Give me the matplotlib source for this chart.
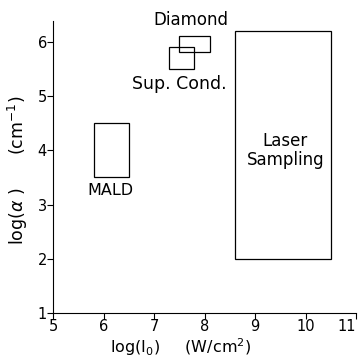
import matplotlib
matplotlib.use("Agg")
import matplotlib.pyplot as plt
from matplotlib.patches import Rectangle

# regions in log(I0) / log(alpha) space
names = ["MALD", "Sup. Cond.", "Diamond", "Laser\nSampling"]
x_lo = [5.8, 7.3, 7.5, 8.6]
x_hi = [6.5, 7.8, 8.1, 10.5]
y_lo = [3.5, 5.5, 5.8, 2.0]
y_hi = [4.5, 5.9, 6.1, 6.2]
# where each label sits
lab_x = [6.13, 7.5, 7.72, 9.6]
lab_y = [3.25, 5.22, 6.4, 3.99]
lab_size = [11.5, 12.5, 12, 12]

fig = plt.figure(figsize=(3.64, 3.6), dpi=100)
ax = fig.add_axes([0.146, 0.13, 0.832, 0.812])

for i in range(len(names)):
    ax.add_patch(Rectangle((x_lo[i], y_lo[i]), x_hi[i] - x_lo[i], y_hi[i] - y_lo[i],
                           fill=False, edgecolor="black", linewidth=0.9))
    ax.text(lab_x[i], lab_y[i], names[i], ha="center", va="center",
            fontsize=lab_size[i], linespacing=1.1)

ax.set_xlim(5, 11)
ax.set_ylim(1, 6.38)
ax.set_xticks(range(5, 12))
ax.set_yticks(range(1, 7))
ax.spines["top"].set_visible(False)
ax.spines["right"].set_visible(False)
ax.tick_params(direction="out", length=4, labelsize=10.5, pad=0.5)
ax.get_xticklabels()[-1].set_horizontalalignment("right")
ax.set_xlabel("log(I$_0$)     (W/cm$^2$)", fontsize=11.5)
ax.xaxis.set_label_coords(0.42, -0.078)
ax.set_ylabel("log($\\alpha$ )      (cm$^{-1}$)", fontsize=12.5)
ax.yaxis.set_label_coords(-0.078, 0.49)

fig.savefig("out.png", dpi=100)
